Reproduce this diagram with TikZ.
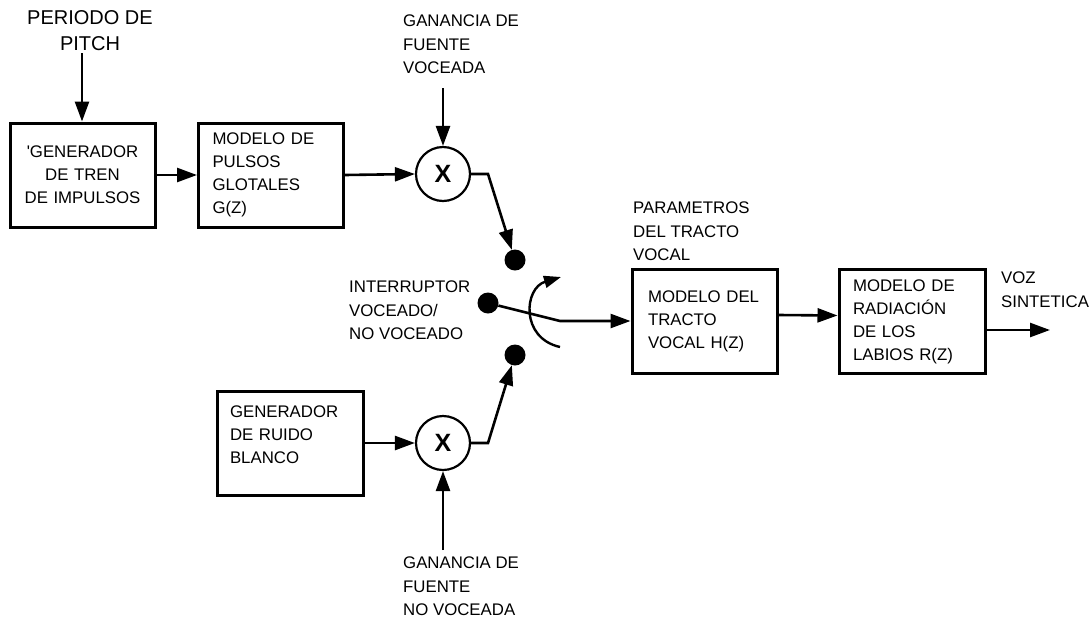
\documentclass[tikz,border=0pt]{standalone}
\usepackage{fontspec}
\setmainfont{Liberation Sans}
\usetikzlibrary{arrows.meta}
\begin{document}
\begin{tikzpicture}[x=1pt,y=-1pt,
  blk/.style={draw, line width=3pt, inner ysep=0pt, minimum height=104pt,
              font=\fontsize{16.8}{23}\selectfont},
  lbl/.style={inner sep=0pt, align=left, anchor=north west,
              font=\fontsize{16.8}{23.5}\selectfont},
  mult/.style={draw, circle, line width=2.2pt, minimum size=54pt, inner sep=0pt,
               font=\fontsize{25}{25}\bfseries\selectfont},
  dot/.style={fill, circle, minimum size=21pt, inner sep=0pt},
  tip/.style={-{Triangle[length=20pt,width=14pt]}},
  sig/.style={line width=2.6pt, tip},
]
\useasboundingbox (0,0) rectangle (1090,622);

% processing blocks
\node[blk, inner xsep=0pt, text width=145pt, align=center] (gen) at (82.5,175)
  {\textquotesingle GENERADOR\\DE TREN\\DE IMPULSOS};
\node[blk, inner xsep=14pt, text width=117pt, align=left] (glot) at (271,175)
  {MODELO DE\\PULSOS\\GLOTALES\\G(Z)};
\node[blk, inner xsep=13pt, text width=120pt, align=left] (noise) at (290,443)
  {GENERADOR\\DE RUIDO\\BLANCO\\[-7pt]\mbox{}};
\node[blk, inner xsep=16pt, text width=113pt, align=left] (tract) at (704.5,321)
  {MODELO DEL\\TRACTO\\VOCAL H(Z)};
\node[blk, inner xsep=14pt, text width=118pt, align=left] (lips) at (912,321.5)
  {MODELO DE\\RADIACIÓN\\DE LOS\\LABIOS R(Z)};

% gain multipliers
\node[mult] (mv) at (443,174) {X};
\node[mult] (mu) at (443,443) {X};

% switch contacts
\node[dot] (dv) at (515,260) {};
\node[dot] (dc) at (488,303) {};
\node[dot] (du) at (515,355) {};

% free ends and bends
\coordinate (pp) at (82,53);
\coordinate (gvin) at (443,88);
\coordinate (guin) at (443,550);
\coordinate (kv) at (488,174);
\coordinate (ku) at (488,443);
\coordinate (sw) at (560,321);
\coordinate (out) at (1050,330);
\coordinate (arcA) at (560,347);
\coordinate (arcB) at (561,277);

% labels
\node[inner sep=0pt, anchor=north, align=center, font=\fontsize{20}{26}\selectfont]
  (pitch) at (90,10) {PERIODO DE\\PITCH};
\node[lbl] (gvtxt) at (403,15) {GANANCIA DE\\FUENTE\\VOCEADA};
\node[lbl] (gutxt) at (403,557) {GANANCIA DE\\FUENTE\\NO VOCEADA};
\node[lbl] (swtxt) at (349,281) {INTERRUPTOR\\VOCEADO/\\NO VOCEADO};
\node[lbl] (partxt) at (633,202) {PARAMETROS\\DEL TRACTO\\VOCAL};
\node[lbl] (voztxt) at (1001,272) {VOZ\\SINTETICA};

% connectors
\draw[sig] (pp) -- (pp |- gen.north);
\draw[sig] (gen.east |- glot.west) -- (glot.west);
\draw[sig] (glot.east) -- (mv.west);
\draw[sig] (gvin) -- (mv.north);
\draw[sig] (mv.east) -- (kv) -- (dv);

\draw[sig] (noise.east |- mu.west) -- (mu.west);
\draw[sig] (guin) -- (mu.south);
\draw[sig] (mu.east) -- (ku) -- (du);

\draw[sig] (dc) -- (sw) -- (sw -| tract.west);
\draw[line width=2.4pt, -{Triangle[length=17pt,width=12pt]}]
  (arcA) .. controls (520,338) and (524,288) .. (arcB);

\draw[sig] ([yshift=6pt]tract.east) -- ([yshift=6pt]lips.west);
\draw[sig] (lips.east |- out) -- (out);
\end{tikzpicture}
\end{document}
